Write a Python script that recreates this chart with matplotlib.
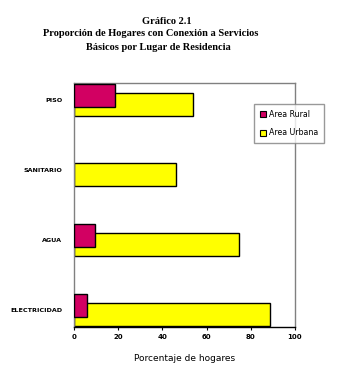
import matplotlib
matplotlib.use("Agg")
import matplotlib.pyplot as plt
import numpy as np
from matplotlib.patches import Patch

categories = ["PISO", "SANITARIO", "AGUA", "ELECTRICIDAD"]
rural = [18.7, 0.0, 9.3, 5.7]
urbana = [54.0, 46.3, 74.8, 88.8]
xticks = [0, 20, 40, 60, 80, 100]

fig = plt.figure(figsize=(3.42, 3.75), dpi=100)
W, H = 342, 375
left, right, top, bottom = 74, 295, 82.7, 327
ax = fig.add_axes([left / W, 1 - bottom / H, (right - left) / W, (bottom - top) / H])

y = np.arange(len(categories))
bh = 23 / 70
off = 4.5 / 70
yellow = "#FFFF00"
mag = "#D20062"
ax.barh(y + off, urbana, height=bh, color=yellow, edgecolor="black", linewidth=1.0, zorder=2)
rural_edges = ["black" if v > 0 else "none" for v in rural]
ax.barh(y - off, rural, height=bh, color=mag, edgecolor=rural_edges, linewidth=1.0, zorder=3)

ax.set_xlim(0, 100)
ax.set_ylim(3 + 16.7 / 70, -17.6 / 70)
ax.set_xticks(xticks)
ax.set_xticklabels([str(v) for v in xticks], fontsize=5, fontweight="bold", family="DejaVu Sans")
ax.set_yticks(y)
ax.set_yticklabels(categories, fontsize=4.6, fontweight="bold", family="DejaVu Sans")
ax.tick_params(axis="y", length=0, pad=8.5)
ax.tick_params(axis="x", length=2, width=0.8, pad=3, direction="out")
for s in ["top", "right", "left"]:
    ax.spines[s].set_color("#808080")
    ax.spines[s].set_linewidth(1.0)
ax.spines["bottom"].set_color("black")
ax.spines["bottom"].set_linewidth(1.0)
ax.set_xlabel("Porcentaje de hogares", fontsize=6.5, labelpad=10, family="DejaVu Sans")

handles = [Patch(facecolor=mag, edgecolor="black", linewidth=0.8),
           Patch(facecolor=yellow, edgecolor="black", linewidth=0.8)]
leg = fig.legend(handles, ["Area Rural", "Area Urbana"], loc="upper left",
                 bbox_to_anchor=(254 / W, 1 - 104 / H), fontsize=5.7,
                 frameon=True, fancybox=False, handlelength=0.8, handleheight=0.8,
                 handletextpad=0.3, labelspacing=1.2, borderpad=0.75, borderaxespad=0)
leg.get_frame().set_edgecolor("#808080")
leg.get_frame().set_linewidth(1.0)

tfont = dict(family="Liberation Serif", fontweight="bold", fontsize=7.5, ha="center", va="center")
fig.text(167 / W, 1 - 21 / H, "Gráfico 2.1", **tfont)
fig.text(151 / W, 1 - 34 / H, "Proporción de Hogares con Conexión a Servicios", **tfont)
fig.text(158 / W, 1 - 48 / H, "Básicos por Lugar de Residencia", **tfont)

fig.savefig("out.png", dpi=100)
